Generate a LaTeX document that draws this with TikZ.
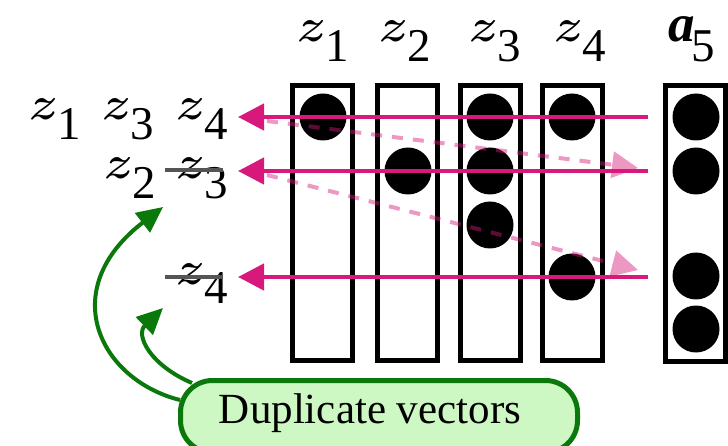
\documentclass[tikz,border=0pt]{standalone}
\usepackage{graphicx}
\usepackage{fontspec}
\setmainfont{Liberation Serif}
\usetikzlibrary{arrows.meta,calc}
\definecolor{mag}{HTML}{D6197A}
\definecolor{dgreen}{HTML}{0A780A}
\definecolor{lgreen}{HTML}{CDF8C4}
\definecolor{strk}{HTML}{555555}
\newcommand{\zz}{{\fontsize{10}{12}\selectfont\scalebox{9.5}{$\scriptscriptstyle z$}}}
\newcommand{\lab}[2]{{\fontsize{53}{60}\selectfont #1}\kern-3pt\raisebox{-20pt}{\fontsize{47}{50}\selectfont #2}}
\begin{document}
\begin{tikzpicture}[x=1pt,y=-1pt,
  lbl/.style={anchor=base west,inner sep=0pt,outer sep=0pt},
  col/.style={draw,line width=5pt,minimum width=60pt,minimum height=275pt,inner sep=0pt},
  dot/.style={circle,fill=black,minimum size=47pt,inner sep=0pt},
  pa/.style={draw=mag,line width=4.5pt,-{Triangle[length=26pt,width=26pt]}},
  da/.style={draw=mag,line width=4pt,dash pattern=on 11pt off 10pt,-{Triangle[length=26pt,width=26pt]}},
  ga/.style={draw=dgreen,line width=4pt,-{Triangle[length=26pt,width=24pt]}},
  strike/.style={draw=strk,line width=4.5pt}]
\useasboundingbox (0,0) rectangle (728,446);
\clip (0,0) rectangle (728,446);
% top labels
\node[lbl] (h1) at (294,42) {\lab{\zz}{1}};
\node[lbl] (h2) at (376,42) {\lab{\zz}{2}};
\node[lbl] (h3) at (466,42) {\lab{\zz}{3}};
\node[lbl] (h4) at (551,42) {\lab{\zz}{4}};
\node[lbl] (h5) at (668,42) {\lab{\bfseries\itshape a}{5}};
% columns
\node[col] (c1) at (322.5,223) {};
\node[col] (c2) at (407.5,223) {};
\node[col] (c3) at (490.5,223) {};
\node[col] (c4) at (572.5,223) {};
\node[col,minimum height=276pt] (c5) at (695.5,223.5) {};
% dots
\node[dot] (d11) at (323,117) {};
\node[dot] (d22) at (408,171) {};
\node[dot] (d31) at (490,117) {};
\node[dot] (d32) at (490,171) {};
\node[dot] (d33) at (490,225) {};
\node[dot] (d41) at (572,117) {};
\node[dot] (d44) at (572,277) {};
\node[dot] (d51) at (696,117) {};
\node[dot] (d52) at (696,171) {};
\node[dot] (d54) at (696,276) {};
\node[dot] (d55) at (696,329) {};
% left labels
\node[lbl] (l11) at (26,120) {\lab{\zz}{1}};
\node[lbl] (l13) at (99,120) {\lab{\zz}{3}};
\node[lbl] (l14) at (173,120) {\lab{\zz}{4}};
\node[lbl] (l22) at (101,179) {\lab{\zz}{2}};
\node[lbl] (l23) at (173,179) {\lab{\zz}{3}};
\node[lbl] (l34) at (173,284) {\lab{\zz}{4}};
\coordinate (s23a) at (165,170);
\coordinate (s23b) at (223,170);
\coordinate (s34a) at (165,277);
\coordinate (s34b) at (223,277);
\draw[strike] (s23a) -- (s23b);
\draw[strike] (s34a) -- (s34b);
% dashed arrows
\coordinate (ds1) at (267,121);
\coordinate (de1) at (638,168);
\coordinate (ds2) at (267,175);
\coordinate (de2) at (638,270);
\begin{scope}[transparency group,opacity=0.45]
\draw[da] (ds1) -- (de1);
\draw[da] (ds2) -- (de2);
\end{scope}
% solid arrows
\coordinate (ps1) at (648,117);
\coordinate (pe1) at (238,117);
\coordinate (ps2) at (648,171);
\coordinate (pe2) at (238,171);
\coordinate (ps3) at (648,277);
\coordinate (pe3) at (238,277);
\draw[pa] (ps1) -- (pe1);
\draw[pa] (ps2) -- (pe2);
\draw[pa] (ps3) -- (pe3);
% green arrows
\coordinate (gs1) at (180,400);
\coordinate (ge1) at (163,207);
\coordinate (gs2) at (192,383);
\coordinate (ge2) at (163,308);
\draw[ga] (gs1) .. controls (100,380) and (55,290) .. (ge1);
\draw[ga] (gs2) .. controls (150,365) and (135,335) .. (ge2);
% box
\node[draw=dgreen,fill=lgreen,line width=5pt,rounded corners=32pt,minimum width=397pt,minimum height=72pt,inner sep=0pt] (box) at (379,416.5) {};
\node[inner sep=0pt,font=\fontsize{43}{50}\selectfont] (boxt) at (370,413) {Duplicate vectors};
\end{tikzpicture}
\end{document}
